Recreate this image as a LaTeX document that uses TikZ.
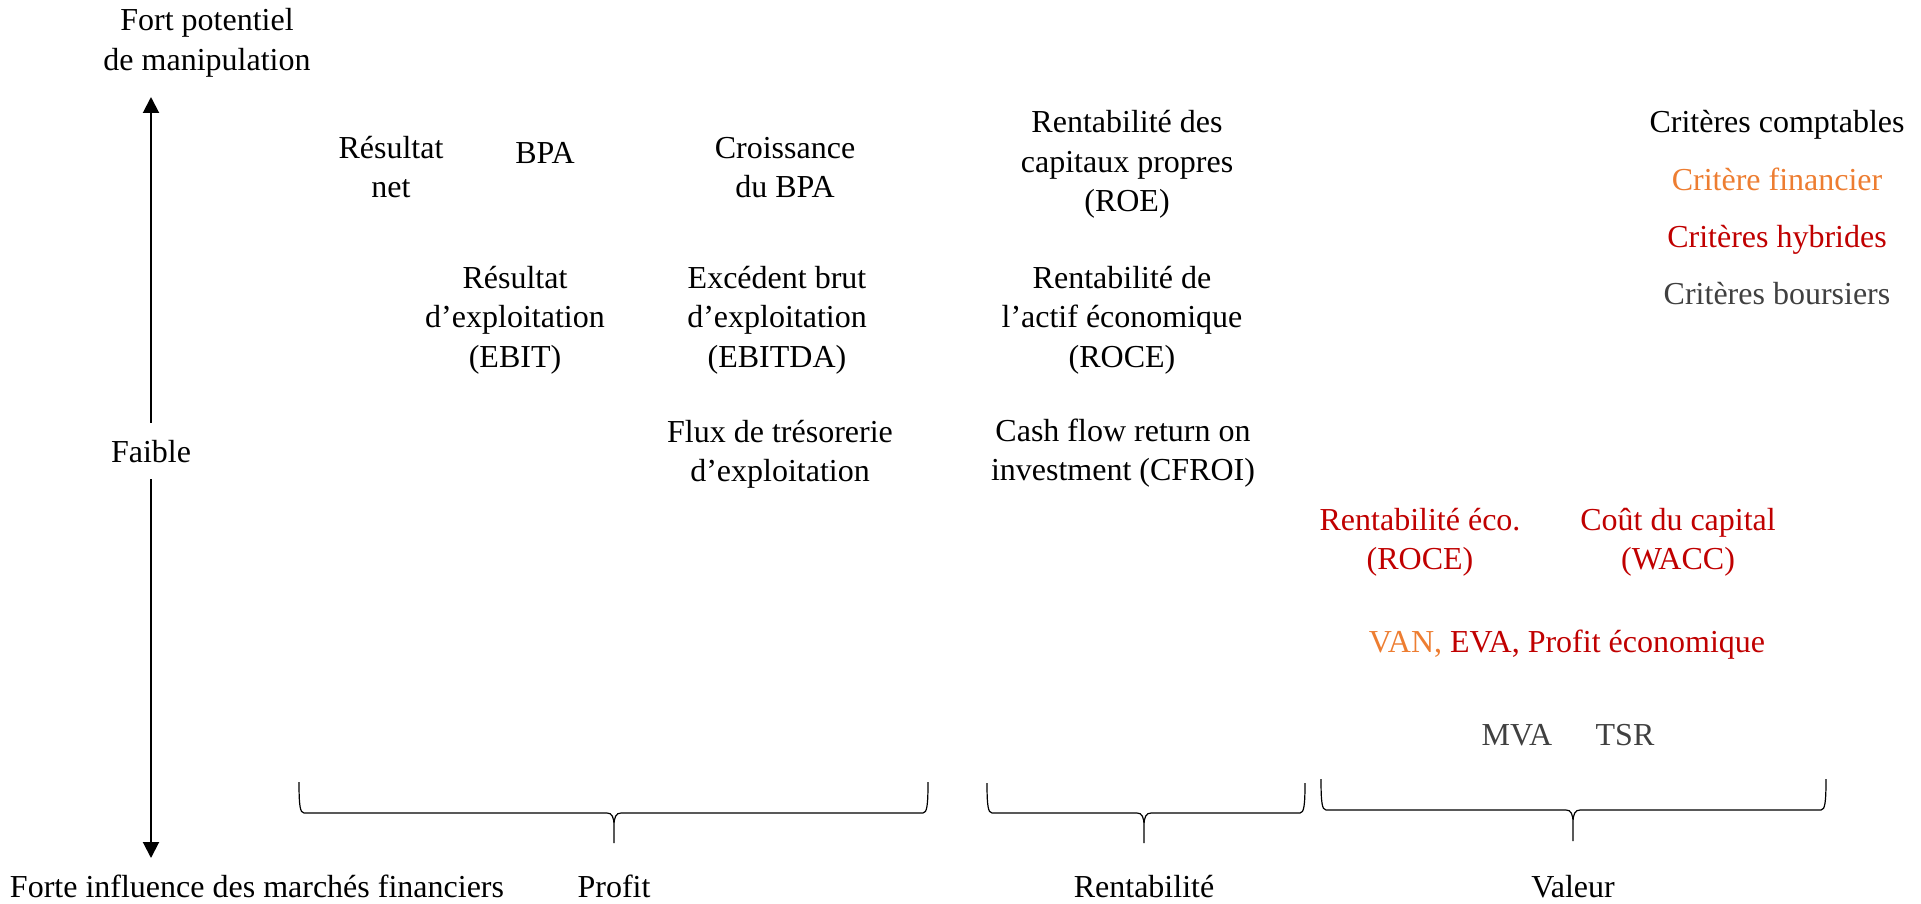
\documentclass[tikz,border=0pt]{standalone}
\usepackage{fontspec}
\setmainfont{Liberation Serif}
\usetikzlibrary{arrows.meta}
\definecolor{finorange}{HTML}{ED7D31}
\definecolor{hybred}{HTML}{C00000}
\definecolor{boursegray}{HTML}{404040}
% centred multi-line label whose reference point is the first baseline
\newcommand{\mlines}[1]{\begin{tabular}[t]{@{}c@{}}#1\end{tabular}}
% curly brace opening downwards: x-left, x-right, x-tip, y-top, y-bar, y-bottom
\newcommand{\bracketshape}[6]{%
  \draw[bracepath]
    (#1,#4) .. controls (#1,{#5-8}) and ({#1+1},#5) .. ({#1+5},#5)
    -- ({#3-7},#5) .. controls ({#3-2},#5) and (#3,{#5+4}) .. (#3,{#5+13})
    -- (#3,#6)
    (#2,#4) .. controls (#2,{#5-8}) and ({#2-1},#5) .. ({#2-5},#5)
    -- ({#3+7},#5) .. controls ({#3+2},#5) and (#3,{#5+4}) .. (#3,{#5+13});
}
\begin{document}
\begin{tikzpicture}[x=0.5pt,y=-0.5pt,
  every node/.style={font=\fontsize{16pt}{19.75pt}\selectfont},
  lbl/.style={inner sep=0pt, anchor=base},
  axis/.style={line width=1pt, -{Triangle[width=8pt,length=8pt]}},
  bracepath/.style={line width=0.6pt},
]
\useasboundingbox (0,0) rectangle (1921,904);

% vertical axis
\node[lbl] (fort) at (207,31) {\mlines{Fort potentiel\\de manipulation}};
\node[lbl, outer ysep=8.5pt] (faible) at (151,462) {Faible};
\node[lbl] (forte) at (257,897) {Forte influence des marchés financiers};
\coordinate (topTip) at (151,97);
\coordinate (botTip) at (151,858);
\draw[axis] (faible.north) -- (topTip);
\draw[axis] (faible.south) -- (botTip);

% profit measures
\node[lbl] (resnet) at (391,158) {\mlines{Résultat\\net}};
\node[lbl] (bpa) at (545,163) {BPA};
\node[lbl] (crois) at (785,158) {\mlines{Croissance\\du BPA}};
\node[lbl] (ebit) at (515,288) {\mlines{Résultat\\d’exploitation\\(EBIT)}};
\node[lbl] (ebitda) at (777,288) {\mlines{Excédent brut\\d’exploitation\\(EBITDA)}};
\node[lbl] (flux) at (780,442) {\mlines{Flux de trésorerie\\d’exploitation}};

% return measures
\node[lbl] (roe) at (1127,133) {\mlines{Rentabilité des\\capitaux propres\\(ROE)}};
\node[lbl] (roce) at (1122,288) {\mlines{Rentabilité de\\l’actif économique\\(ROCE)}};
\node[lbl] (cfroi) at (1123,441) {\mlines{Cash flow return on\\investment (CFROI)}};

% legend
\node[lbl] (lgcpt) at (1777,133) {Critères comptables};
\node[lbl, text=finorange] (lgfin) at (1777,190) {Critère financier};
\node[lbl, text=hybred] (lghyb) at (1777,247) {Critères hybrides};
\node[lbl, text=boursegray] (lgbrs) at (1777,304) {Critères boursiers};

% value measures
\node[lbl, text=hybred] (ecoroce) at (1420,530) {\mlines{Rentabilité éco.\\(ROCE)}};
\node[lbl, text=hybred] (wacc) at (1678,530) {\mlines{Coût du capital\\(WACC)}};
\node[lbl] (van) at (1567,652) {\textcolor{finorange}{VAN,} \textcolor{hybred}{EVA, Profit économique}};
\node[lbl, text=boursegray] (mva) at (1517,745) {MVA};
\node[lbl, text=boursegray] (tsr) at (1625,745) {TSR};

% groups
\bracketshape{299}{928}{614}{782}{813}{843}
\bracketshape{987}{1305}{1144}{783}{813}{843}
\bracketshape{1321}{1826}{1573}{779}{810}{841}
\node[lbl] (gprofit) at (614,897) {Profit};
\node[lbl] (grent) at (1144,897) {Rentabilité};
\node[lbl] (gval) at (1573,897) {Valeur};
\end{tikzpicture}
\end{document}
